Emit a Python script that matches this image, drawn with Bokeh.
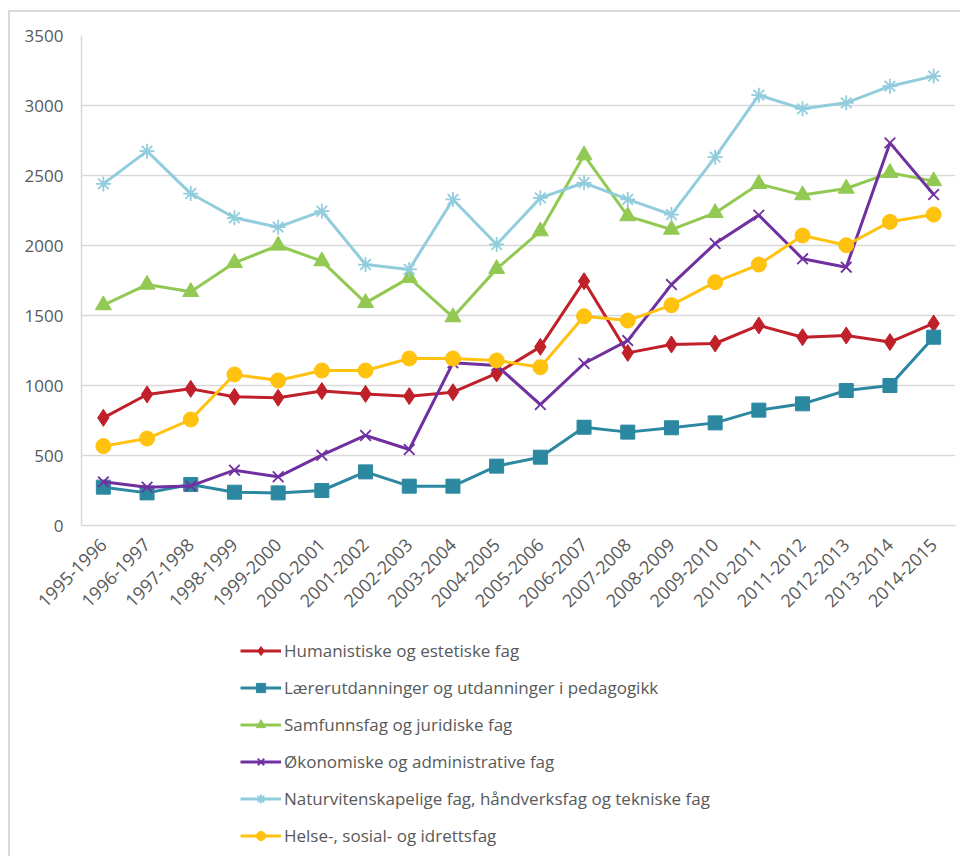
import math
from bokeh.plotting import figure
from bokeh.layouts import column
from bokeh.models import FactorRange, Range1d, FixedTicker, Legend, LegendItem
from bokeh.embed import file_html
from bokeh.resources import INLINE

categories = ["1995-1996", "1996-1997", "1997-1998", "1998-1999", "1999-2000",
              "2000-2001", "2001-2002", "2002-2003", "2003-2004", "2004-2005",
              "2005-2006", "2006-2007", "2007-2008", "2008-2009", "2009-2010",
              "2010-2011", "2011-2012", "2012-2013", "2013-2014", "2014-2015"]

humanistiske = [769, 936, 976, 919, 912, 960, 940, 924, 952, 1086,
                1276, 1745, 1233, 1293, 1300, 1429, 1345, 1357, 1310, 1443]
laererutd = [274, 233, 293, 238, 233, 250, 383, 281, 281, 424,
             488, 702, 667, 698, 733, 824, 869, 964, 1000, 1345]
samfunnsfag = [1574, 1721, 1669, 1876, 2000, 1888, 1590, 1769, 1488, 1833,
               2102, 2645, 2210, 2114, 2233, 2440, 2360, 2407, 2519, 2460]
okonomiske = [312, 274, 283, 395, 348, 502, 643, 543, 1162, 1143,
              864, 1157, 1321, 1721, 2014, 2217, 1905, 1845, 2733, 2364]
naturvit = [2440, 2674, 2371, 2198, 2131, 2245, 1864, 1829, 2329, 2007,
            2340, 2448, 2329, 2221, 2631, 3074, 2976, 3019, 3138, 3210]
helse = [567, 621, 757, 1079, 1036, 1107, 1107, 1193, 1193, 1179,
         1131, 1495, 1464, 1574, 1738, 1864, 2071, 2002, 2169, 2221]

y_ticks = [0, 500, 1000, 1500, 2000, 2500, 3000, 3500]

series = [
    ("Humanistiske og estetiske fag", humanistiske, "#C0202A", "diamond", 17),
    ("Lærerutdanninger og utdanninger i pedagogikk", laererutd, "#2B88A0", "square", 14),
    ("Samfunnsfag og juridiske fag", samfunnsfag, "#92C952", "triangle", 16),
    ("Økonomiske og administrative fag", okonomiske, "#7030A0", "x", 15),
    ("Naturvitenskapelige fag, håndverksfag og tekniske fag", naturvit, "#92CDDD", "asterisk", 15),
    ("Helse-, sosial- og idrettsfag", helse, "#FFC20E", "circle", 15),
]

FONT = "Open Sans"
TXT = "#595959"

# main chart
p = figure(x_range=FactorRange(*categories, range_padding=0),
           y_range=Range1d(0, 3500),
           width=950, height=608,
           output_backend="svg", toolbar_location=None,
           min_border_left=71, min_border_right=5,
           min_border_top=23, min_border_bottom=95)

p.outline_line_color = None
p.xgrid.grid_line_color = None
p.ygrid.grid_line_color = "#d9d9d9"
p.ygrid.grid_line_width = 1.5
p.yaxis.ticker = FixedTicker(ticks=y_ticks)

for ax in (p.xaxis, p.yaxis):
    ax.axis_line_color = "#d9d9d9"
    ax.axis_line_width = 1.5
    ax.major_tick_line_color = None
    ax.minor_tick_line_color = None
    ax.major_label_text_color = TXT
    ax.major_label_text_font = FONT

p.yaxis.major_label_text_font_size = "17px"
p.xaxis.major_label_text_font_size = "18px"
p.yaxis.major_label_standoff = 12
p.xaxis.major_label_standoff = 10
p.xaxis.major_label_orientation = math.pi / 4

# legend panel
p2 = figure(x_range=Range1d(0, 1), y_range=Range1d(0, 1),
            width=950, height=236,
            output_backend="svg", toolbar_location=None,
            x_axis_type=None, y_axis_type=None,
            min_border=0)
p2.grid.visible = False
p2.outline_line_color = None

hidden_x = [-10.0]
hidden_y = [-10.0]

items = []
for name, vals, col, marker, size in series:
    p.line(categories, vals, line_color=col, line_width=3)
    if marker in ("x", "asterisk"):
        p.scatter(categories, vals, marker=marker, size=size,
                  line_color=col, line_width=1.8, fill_color=None)
        d2 = p2.scatter(x=hidden_x, y=hidden_y, marker=marker, size=size,
                        line_color=col, line_width=1.8, fill_color=None)
    else:
        p.scatter(categories, vals, marker=marker, size=size,
                  line_color=col, fill_color=col)
        d2 = p2.scatter(x=hidden_x, y=hidden_y, marker=marker, size=size,
                        line_color=col, fill_color=col)
    d1 = p2.line(x=hidden_x, y=hidden_y, line_color=col, line_width=3)
    items.append(LegendItem(label=name, renderers=[d1, d2]))

legend = Legend(items=items, location=(159, 9))
legend.margin = 0
legend.padding = 0
legend.border_line_color = None
legend.background_fill_alpha = 0
legend.glyph_width = 41
legend.glyph_height = 23
legend.label_height = 23
legend.spacing = 14
legend.label_standoff = 3
legend.label_text_font = FONT
legend.label_text_font_size = "17px"
legend.label_text_color = TXT
p2.add_layout(legend, "center")

layout = column(p, p2, margin=(10, 0, 0, 8),
                styles={"border-left": "2px solid #d9d9d9",
                        "border-top": "2px solid #d9d9d9"})

open("out.html", "w").write(file_html(layout, INLINE))
